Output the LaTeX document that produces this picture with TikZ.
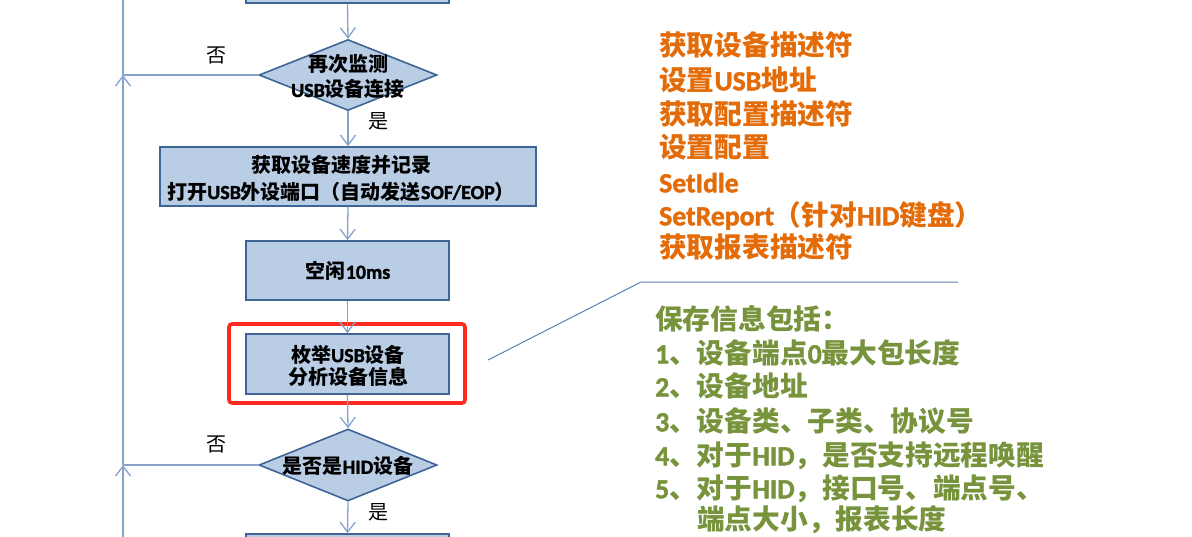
\documentclass[tikz,border=0pt]{standalone}
\usepackage{fontspec}
\setmainfont{Noto Sans CJK SC}
\newfontfamily\latfam{Carlito}[BoldFont={Carlito Bold},BoldFeatures={FakeBold=1.6}]
\newcommand\LatTxt[1]{{\latfam\bfseries #1}}
\usetikzlibrary{shapes.geometric,arrows.meta}
\definecolor{boxfill}{HTML}{B9CDE5}
\definecolor{boxline}{HTML}{3F6597}
\definecolor{connc}{HTML}{86A3CC}
\definecolor{calloutc}{HTML}{5E80AD}
\definecolor{orng}{HTML}{E36C09}
\definecolor{olive}{HTML}{77933C}
\definecolor{redbox}{HTML}{FF2A1F}
\begin{document}
\begin{tikzpicture}[x=1pt,y=-1pt,
  box/.style={draw=boxline, fill=boxfill, line width=1.6pt, inner sep=0pt},
  dia/.style={diamond, draw=boxline, fill=boxfill, line width=1.6pt, inner sep=0pt,
              minimum width=178pt, minimum height=71pt},
  conn/.style={draw=connc, line width=1.3pt},
  arr/.style={conn, -{Straight Barb[length=10pt,width=15pt,line width=1.3pt]}},
  mtxt/.style={font=\bfseries\fontsize{20}{#1}\selectfont, align=center, inner sep=0pt, yshift=-1.5pt},
  ftxt/.style={font=\bfseries\fontsize{20}{24}\selectfont, inner sep=0pt,
               text height=0.88em, text depth=0.12em, yshift=-4pt},
  lbl/.style={font=\fontsize{20}{24}\selectfont, inner sep=0pt,
              text height=0.88em, text depth=0.12em, yshift=-4pt},
  otxt/.style={font=\bfseries\fontsize{27.7}{30}\selectfont, text=orng, anchor=west, inner sep=0pt,
               text height=0.88em, text depth=0.12em, yshift=-5.5pt},
  gtxt/.style={font=\bfseries\fontsize{27.7}{30}\selectfont, text=olive, anchor=west, inner sep=0pt,
               text height=0.88em, text depth=0.12em, yshift=-5.5pt},
  hilite/.style={draw=redbox, line width=3.6pt, rounded corners=3pt, inner sep=0pt}
]
\useasboundingbox (0,0) rectangle (1192,536);
\clip (0,0) rectangle (1192,536);
\fill[white] (0,0) rectangle (1192,536);

% flowchart boxes
\node[box, minimum width=203pt, minimum height=46pt] (b0) at (347.5,-20) {};
\node[dia] (d1) at (348,75) {};
\node[mtxt=25] (d1t) at (348,75.5) {再次监测\\\LatTxt{USB}设备连接};
\node[box, minimum width=376pt, minimum height=59pt] (b2) at (348,176.5) {};
\node[mtxt=27] (b2t) at (341,176.5) {获取设备速度并记录\\打开\LatTxt{USB}外设端口（自动发送\LatTxt{SOF/EOP}）};
\node[box, minimum width=203pt, minimum height=59pt] (b3) at (347.5,270.5) {};
\node[ftxt] (b3t) at (348,271) {空闲\LatTxt{10ms}};
\node[box, minimum width=203pt, minimum height=60pt] (b4) at (347.5,364) {};
\node[mtxt=22] (b4t) at (348,364) {枚举\LatTxt{USB}设备\\分析设备信息};
\node[hilite, minimum width=236pt, minimum height=79pt] (hl) at (347,363.5) {};
\node[dia, minimum height=72pt] (d2) at (348,465) {};
\node[ftxt] (d2t) at (348,466) {是否是\LatTxt{HID}设备};
\node[box, minimum width=203pt, minimum height=52pt] (b5) at (347.5,560) {};

% connectors
\draw[arr] (b0.south) -- (d1.north);
\draw[arr] (d1.south) -- (b2.north);
\draw[arr] (b2.south) -- (b3.north);
\draw[arr] (b3.south) -- (b4.north);
\draw[arr] (b4.south) -- (d2.north);
\draw[arr] (d2.south) -- (b5.north);

\coordinate (j1) at (123,75);
\coordinate (j2) at (123,465);
\coordinate (ltop) at (123,-5);
\coordinate (lbot) at (123,545);
\draw[conn] (d1.west) -- (j1) -- (ltop);
\draw[conn] (d2.west) -- (j2);
\draw[arr] (j2) -- (j1);
\draw[arr] (lbot) -- (j2);

\node[lbl] (no1) at (216,55) {否};
\node[lbl] (yes1) at (378,121) {是};
\node[lbl] (no2) at (216,444) {否};
\node[lbl] (yes2) at (378,512) {是};

% callout line
\coordinate (c1) at (488,360);
\coordinate (c2) at (641,282);
\coordinate (c3) at (958,282);
\draw[draw=calloutc, line width=1pt] (c1) -- (c2) -- (c3);

% orange list
\node[otxt] (o1) at (659,46) {获取设备描述符};
\node[otxt] (o2) at (659,81) {设置\LatTxt{USB}地址};
\node[otxt] (o3) at (659,115) {获取配置描述符};
\node[otxt] (o4) at (659,148) {设置配置};
\node[otxt] (o5) at (659,183) {\LatTxt{SetIdle}};
\node[otxt] (o6) at (659,216) {\LatTxt{SetReport}（针对\LatTxt{HID}键盘）};
\node[otxt] (o7) at (659,248) {获取报表描述符};

% green list
\node[gtxt] (g0) at (655,320) {保存信息包括：};
\node[gtxt] (g1) at (655,354) {\LatTxt{1}、设备端点\LatTxt{0}最大包长度};
\node[gtxt] (g2) at (655,387) {\LatTxt{2}、设备地址};
\node[gtxt] (g3) at (655,422) {\LatTxt{3}、设备类、子类、协议号};
\node[gtxt] (g4) at (655,456) {\LatTxt{4}、对于\LatTxt{HID}，是否支持远程唤醒};
\node[gtxt] (g5) at (655,489) {\LatTxt{5}、对于\LatTxt{HID}，接口号、端点号、};
\node[gtxt] (g6) at (697,520) {端点大小，报表长度};
\end{tikzpicture}
\end{document}
